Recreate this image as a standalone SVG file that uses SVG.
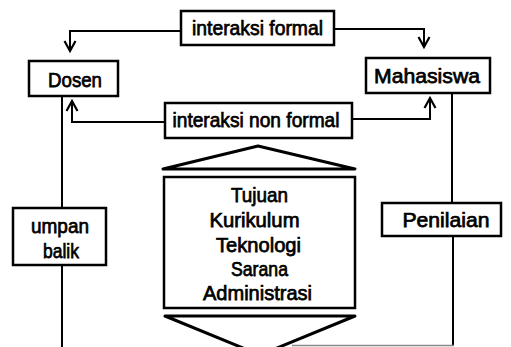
<svg xmlns="http://www.w3.org/2000/svg" width="511" height="347" viewBox="0 0 511 347">
<defs>
<style>
.box{fill:#fff;stroke:#000;stroke-width:2.5}
.tri{fill:#fff;stroke:#000;stroke-width:3;stroke-linejoin:round}
.ln{fill:none;stroke:#000;stroke-width:2}
.ar{fill:none;stroke:#000;stroke-width:2.2;stroke-linejoin:miter}
.t{font-family:"Liberation Sans",Arial,sans-serif;font-size:21px;fill:#000;stroke:#000;stroke-width:0.75;text-anchor:middle}
</style>
</defs>
<rect width="511" height="347" fill="#fff"/>
<g id="connectors">
<polyline class="ln" points="181,31 70,31 70,51"/>
<polyline class="ar" points="64.5,41 70,51 75.5,41"/>
<polyline class="ln" points="334,29 424,29 424,47"/>
<polyline class="ar" points="418.5,37 424,47 429.5,37"/>
<polyline class="ln" points="165,122 72,122 72,101"/>
<polyline class="ar" points="66.5,111 72,101 77.5,111"/>
<polyline class="ln" points="352,119 430,119 430,98"/>
<polyline class="ar" points="424.5,108 430,98 435.5,108"/>
<line class="ln" x1="62" y1="96" x2="62" y2="208"/>
<line class="ln" x1="62" y1="265" x2="62" y2="347"/>
<line class="ln" x1="452" y1="93" x2="452" y2="203"/>
<polyline class="ln" points="453,236 453,345"/>
<line x1="454" y1="345.5" x2="292" y2="345.5" stroke="#888" stroke-width="1.5"/>
</g>
<g id="interaksi-formal">
<rect class="box" x="181" y="11" width="153" height="34"/>
<text class="t" x="257.5" y="35" textLength="131" lengthAdjust="spacingAndGlyphs">interaksi formal</text>
</g>
<g id="dosen">
<rect class="box" x="29" y="61" width="89" height="35"/>
<text class="t" x="75" y="87" textLength="54" lengthAdjust="spacingAndGlyphs">Dosen</text>
</g>
<g id="mahasiswa">
<rect class="box" x="366" y="58" width="124" height="35"/>
<text class="t" x="427" y="83" textLength="106" lengthAdjust="spacingAndGlyphs">Mahasiswa</text>
</g>
<g id="interaksi-non-formal">
<rect class="box" x="165" y="103" width="187" height="35"/>
<text class="t" x="256" y="127" textLength="167" lengthAdjust="spacingAndGlyphs">interaksi non formal</text>
</g>
<g id="umpan-balik">
<rect class="box" x="13" y="208" width="93" height="57"/>
<text class="t" x="60" y="233" textLength="58" lengthAdjust="spacingAndGlyphs">umpan</text>
<text class="t" x="61" y="258" textLength="36" lengthAdjust="spacingAndGlyphs">balik</text>
</g>
<g id="penilaian">
<rect class="box" x="382" y="203" width="119" height="33"/>
<text class="t" x="446" y="227" textLength="87" lengthAdjust="spacingAndGlyphs">Penilaian</text>
</g>
<g id="komponen">
<polygon class="tri" points="163,169 258,146 355,169"/>
<rect class="box" x="164" y="177" width="191" height="131"/>
<polygon class="tri" points="165,316 355,316 260,355"/>
<text class="t" x="259.5" y="202" textLength="57" lengthAdjust="spacingAndGlyphs">Tujuan</text>
<text class="t" x="254.5" y="227" textLength="90" lengthAdjust="spacingAndGlyphs">Kurikulum</text>
<text class="t" x="258.5" y="252" textLength="85" lengthAdjust="spacingAndGlyphs">Teknologi</text>
<text class="t" x="259.5" y="276" textLength="57" lengthAdjust="spacingAndGlyphs">Sarana</text>
<text class="t" x="257.5" y="300" textLength="109" lengthAdjust="spacingAndGlyphs">Administrasi</text>
</g>
</svg>
